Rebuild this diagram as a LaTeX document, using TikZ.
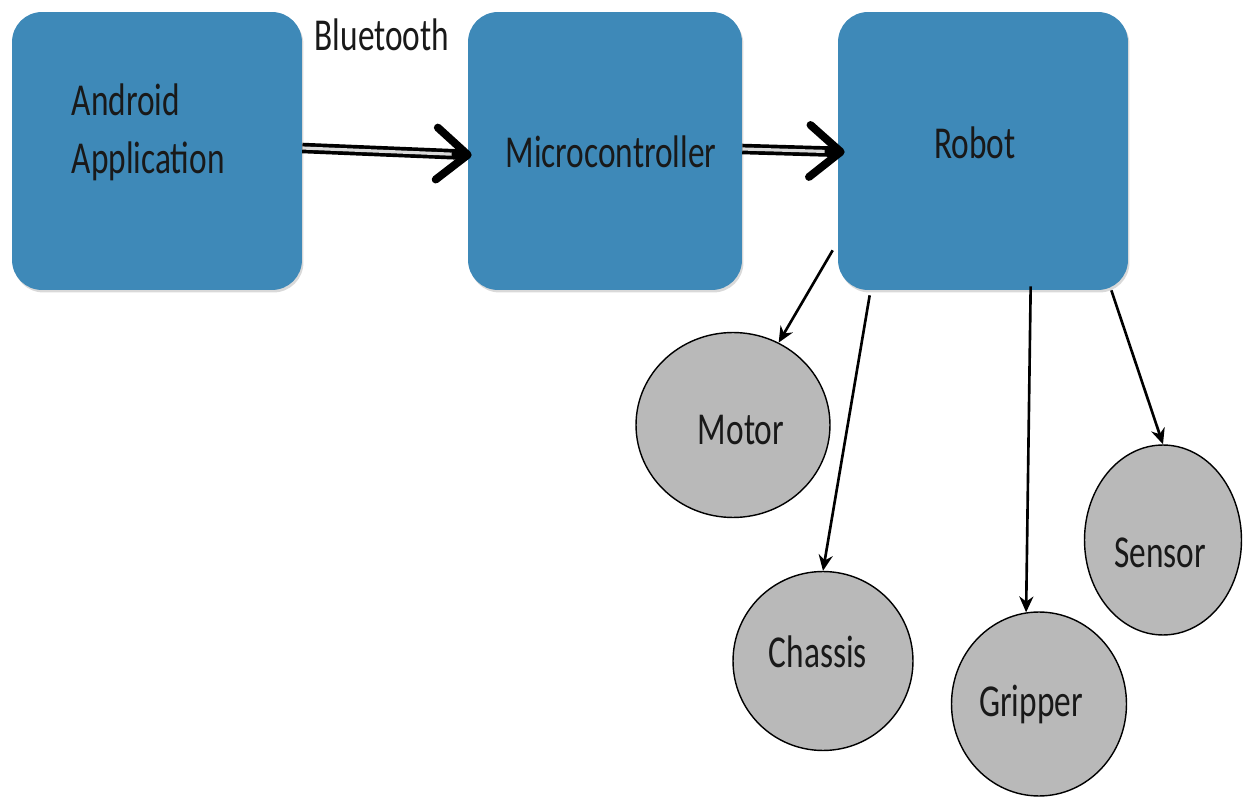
\documentclass[tikz,border=0pt]{standalone}
\usepackage{fontspec}
\setmainfont[FakeStretch=0.73]{Carlito}
\usetikzlibrary{arrows.meta,shapes.geometric,shadows,calc}

\definecolor{boxblue}{RGB}{62,137,184}
\definecolor{partgray}{RGB}{185,185,185}

\begin{document}
\begin{tikzpicture}[x=0.02cm,y=-0.02cm,
  txt/.style={font=\fontsize{26}{33}\selectfont,text=black!90},
  block/.style={fill=boxblue,rounded corners=0.6cm,minimum height=5.56cm,
    drop shadow={opacity=0.3,shadow xshift=0.03cm,shadow yshift=-0.05cm}},
  part/.style={ellipse,draw,line width=0.8pt,fill=partgray,inner sep=0pt},
  feed/.style={line width=6pt,-{Straight Barb[length=0.62cm,width=1.04cm,line width=4.5pt,round]},
    postaction={draw=white!85!black,line width=1.8pt,shorten >=0.4cm,-}},
  link/.style={line width=1.5pt,-{Stealth[length=9pt,width=8pt]}}]
  \useasboundingbox (0,0) rectangle (1252,800);
  \node[block,minimum width=5.8cm,
    label={[txt,align=left,anchor=west,xshift=1.08cm,yshift=0.38cm]west:Android\\Application}]
    (android) at (157,151) {};
  \node[block,minimum width=5.48cm,label={[txt,shift={(6,1)}]center:Microcontroller}]
    (micro) at (605,151) {};
  \node[block,minimum width=5.8cm,label={[txt,shift={(-8,-8)}]center:Robot}]
    (robot) at (983,151) {};
  \node[txt] (bt) at (382,35) {Bluetooth};
  \node[part,minimum width=3.88cm,minimum height=3.7cm,
    label={[txt,shift={(8,5)}]center:Motor}] (motor) at (733,425) {};
  \node[part,minimum width=3.6cm,minimum height=3.58cm,
    label={[txt,shift={(-5,-9)}]center:Chassis}] (chassis) at (823,661) {};
  \node[part,minimum width=3.5cm,minimum height=3.68cm,
    label={[txt,shift={(-8,0)}]center:Gripper}] (gripper) at (1039,704) {};
  \node[part,minimum width=3.14cm,minimum height=3.8cm,
    label={[txt,shift={(-3,13)}]center:Sensor}] (sensor) at (1163,540) {};
  \draw[feed] ([yshift=0.06cm]android.east) -- ([xshift=0.08cm,yshift=-0.08cm]micro.west);
  \draw[feed] ([yshift=0.04cm]micro.east) -- ([xshift=0.14cm,yshift=-0.02cm]robot.west);
  \draw[link] ($(robot.south west)+(-5,-40)$) -- (motor.61);
  \draw[link] ($(robot.south west)+(32,5)$) -- (chassis.north);
  \draw[link] ($(robot.south west)+(193,-4)$) -- (gripper.98);
  \draw[link] ($(robot.south east)+(-17,0)$) -- (sensor.north);
\end{tikzpicture}
\end{document}
